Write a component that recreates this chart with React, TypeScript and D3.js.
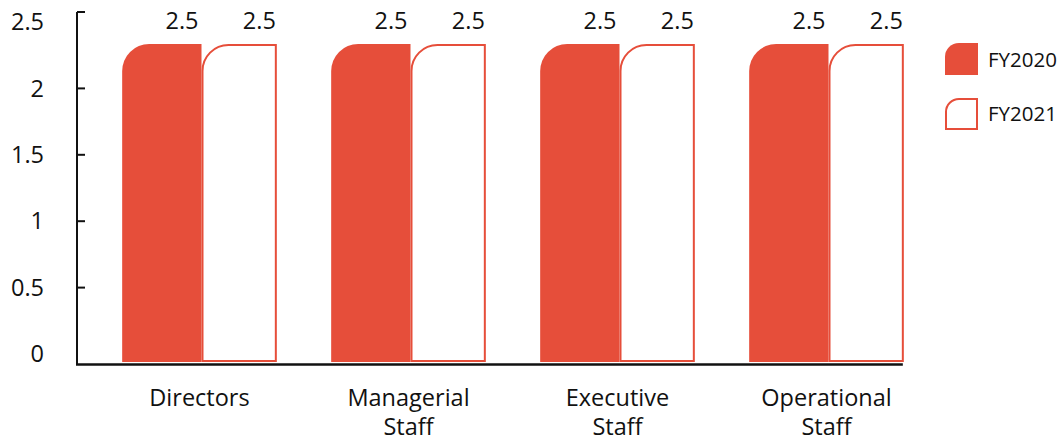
import React from "react";
import * as d3 from "d3";

const categories: string[][] = [["Directors"], ["Managerial", "Staff"], ["Executive", "Staff"], ["Operational", "Staff"]];
const series = ["FY2020", "FY2021"];
const fy2020 = [2.5, 2.5, 2.5, 2.5];
const fy2021 = [2.5, 2.5, 2.5, 2.5];
const yTicks = [0, 0.5, 1, 1.5, 2, 2.5];

const RED = "#e64e3a";
const FONT = "'Open Sans', sans-serif";

function roundTopLeft(x: number, y: number, w: number, h: number, r: number) {
  const rr = Math.min(r, w, h);
  return `M${x},${y + h} L${x},${y + rr} A${rr},${rr} 0 0 1 ${x + rr},${y} L${x + w},${y} L${x + w},${y + h} Z`;
}

export default function App() {
  const W = 1062, H = 439;
  const keys = categories.map((c) => c.join(" "));
  const x0 = d3.scaleBand<string>().domain(keys).range([95, 931]).paddingInner(0.26).paddingOuter(0.13);
  const x1 = d3.scaleBand<string>().domain(series).range([0, x0.bandwidth()]).padding(0);
  const y = d3.scaleLinear().domain([0, 2.5]).range([354, 22]);
  const yBar = d3.scaleLinear().domain([0, 2.5]).range([362, 44]);
  const values = [fy2020, fy2021];
  const axisX = 77;
  const baseY = 364.5;

  return (
    <svg width={W} height={H} style={{ position: "absolute", left: 0, top: 0, fontFamily: FONT }}>
      {/* bars */}
      {keys.map((k, i) => {
        const gx = x0(k)!;
        return (
          <g key={k}>
            {series.map((s, j) => {
              const v = values[j][i];
              const bx = gx + x1(s)!;
              const bw = x1.bandwidth();
              const top = yBar(v);
              const h = yBar(0) - top;
              return j === 0 ? (
                <path key={s} d={roundTopLeft(bx, top, bw + 2, h, 27)} fill={RED} />
              ) : (
                <path key={s} d={roundTopLeft(bx + 3, top + 1, bw - 4, h - 2, 26)} fill="#fff" stroke={RED} strokeWidth={2} />
              );
            })}
            {series.map((s, j) => {
              const bx = gx + x1(s)! + x1.bandwidth();
              return (
                <text key={"l" + s} x={bx - 1} y={29} textAnchor="end" fontSize={23.5} fill="#111">
                  {values[j][i]}
                </text>
              );
            })}
            <text x={gx + x0.bandwidth() / 2} textAnchor="middle" fontSize={23.5} fill="#111">
              {categories[i].map((line, li) => (
                <tspan key={li} x={gx + x0.bandwidth() / 2} y={406 + li * 29}>
                  {line}
                </tspan>
              ))}
            </text>
          </g>
        );
      })}
      {/* y axis */}
      <line x1={axisX} x2={axisX} y1={12} y2={365} stroke="#111" strokeWidth={2} />
      <line x1={axisX} x2={axisX + 8} y1={12} y2={12} stroke="#111" strokeWidth={2} />
      {yTicks.map((t) => (
        <g key={t}>
          {t > 0 && t < 2.5 && (
            <line x1={axisX} x2={axisX + 8} y1={y(t)} y2={y(t)} stroke="#111" strokeWidth={2} />
          )}
          <text x={44} y={y(t)} dy="0.35em" textAnchor="end" fontSize={23.5} fill="#111">
            {t}
          </text>
        </g>
      ))}
      {/* x axis */}
      <line x1={axisX - 1} x2={x0(keys[keys.length - 1])! + x0.bandwidth() - 1} y1={baseY} y2={baseY} stroke="#111" strokeWidth={2.5} />
      {/* legend */}
      <path d={roundTopLeft(945, 43, 33, 32, 14)} fill={RED} />
      <text x={988} y={60} dy="0.35em" fontSize={20.5} fill="#111">{series[0]}</text>
      <path d={roundTopLeft(946, 99, 31, 30, 13)} fill="#fff" stroke={RED} strokeWidth={2} />
      <text x={988} y={114} dy="0.35em" fontSize={20.5} fill="#111">{series[1]}</text>
    </svg>
  );
}
